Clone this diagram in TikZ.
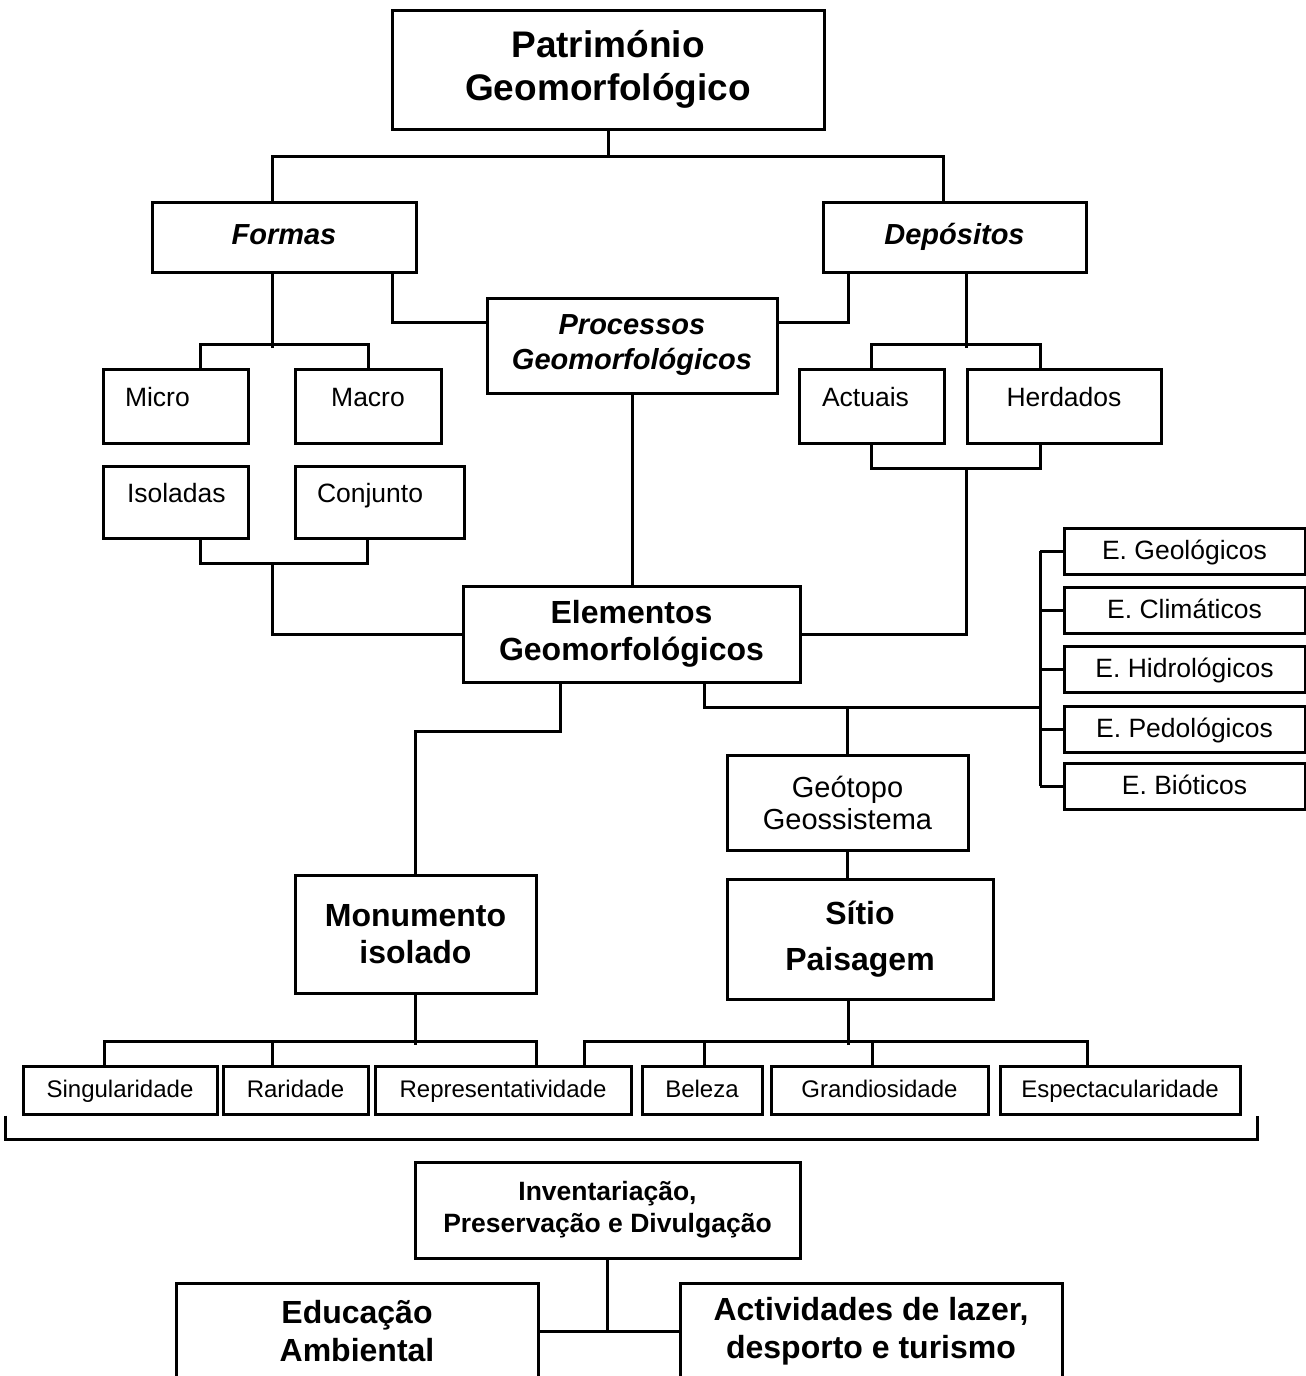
\documentclass[tikz,border=0pt]{standalone}
\usepackage{fontspec}
\setmainfont{Liberation Sans}
\usepackage{tikz}
\tikzstyle{box} = [rectangle, draw=black, text centered, align=center, inner sep=0pt]
\tikzstyle{titlebox} = [box, font=\bfseries\fontsize{37}{43}\selectfont]
\tikzstyle{italbox} = [box, font=\bfseries\itshape\fontsize{29}{35}\selectfont]
\tikzstyle{italone} = [italbox, text height=21pt, text depth=7pt]
\tikzstyle{bigbox} = [box, font=\bfseries\fontsize{32}{37}\selectfont]
\tikzstyle{smallbox} = [box, font=\fontsize{26.5}{32}\selectfont]
\tikzstyle{subbox} = [smallbox, text height=19pt, text depth=19pt]
\tikzstyle{leftbox} = [subbox, align=left, inner xsep=22pt]
\tikzstyle{elembox} = [smallbox, minimum width=241pt, minimum height=46pt, text height=19pt, text depth=3pt]
\tikzstyle{critbox} = [box, font=\fontsize{24}{28}\selectfont, minimum height=48pt, text height=17pt, text depth=2pt]

\begin{document}
\begin{tikzpicture}[x=1pt, y=-1pt, line width=3pt]
        \useasboundingbox (0,0) rectangle (1306,1376);

        % Topo
        \node (pat) [titlebox, minimum width=432pt, minimum height=119pt] at (608,69.5) {Património\\Geomorfológico};
        \node (formas) [italone, minimum width=264pt, minimum height=70pt] at (284,237) {Formas};
        \node (dep) [italone, minimum width=263pt, minimum height=70pt] at (954.5,237) {Depósitos};
        \node (proc) [italbox, minimum width=290pt, minimum height=95pt] at (632,345.5) {Processos\\Geomorfológicos};

        % Formas
        \node (micro) [leftbox, text width=101pt, minimum height=74pt] at (175.5,406) {Micro};
        \node (macro) [subbox, minimum width=146pt, minimum height=74pt] at (368,406) {Macro};
        \node (isol) [leftbox, text width=97pt, inner xsep=24pt, minimum height=72pt] at (175.5,502) {Isoladas};
        \node (conj) [leftbox, text width=125pt, minimum height=72pt] at (379.5,502) {Conjunto};

        % Depositos
        \node (actu) [leftbox, text width=99pt, inner xsep=23pt, minimum height=74pt] at (871.5,406) {Actuais};
        \node (herd) [subbox, minimum width=194pt, minimum height=74pt] at (1064,406) {Herdados};

        % Elementos
        \node (elem) [bigbox, minimum width=337pt, minimum height=96pt] at (631.5,634) {Elementos\\Geomorfológicos};
        \node (geol) [elembox] at (1184.5,551) {E. Geológicos};
        \node (clim) [elembox] at (1184.5,610) {E. Climáticos};
        \node (hidr) [elembox] at (1184.5,669.5) {E. Hidrológicos};
        \node (pedo) [elembox] at (1184.5,729) {E. Pedológicos};
        \node (biot) [elembox] at (1184.5,786) {E. Bióticos};
        \node (geo) [box, font=\fontsize{29}{32}\selectfont, minimum width=241pt, minimum height=95pt] at (847.5,802.5) {Geótopo\\Geossistema};

        % Monumento e Sitio
        \node (monu) [bigbox, minimum width=241pt, minimum height=118pt] at (415.5,934) {Monumento\\isolado};
        \node (sitio) [bigbox, minimum width=266pt, minimum height=120pt] at (860,939) {Sítio\\[9pt]Paisagem};

        % Criterios
        \node (sing) [critbox, minimum width=194pt] at (120,1090) {Singularidade};
        \node (rari) [critbox, minimum width=145pt] at (295.5,1090) {Raridade};
        \node (repr) [critbox, minimum width=256pt] at (503,1090) {Representatividade};
        \node (bele) [critbox, minimum width=120pt] at (702,1090) {Beleza};
        \node (gran) [critbox, minimum width=217pt] at (879.5,1090) {Grandiosidade};
        \node (espe) [critbox, minimum width=240pt] at (1120,1090) {Espectacularidade};

        % Base
        \node (inv) [box, font=\bfseries\fontsize{26.5}{32}\selectfont, minimum width=385pt, minimum height=96pt] at (607.5,1210) {Inventariação,\\Preservação e Divulgação};
        \node (edu) [bigbox, font=\bfseries\fontsize{32}{38}\selectfont, minimum width=362pt, minimum height=97pt] at (357,1331.5) {Educação\\Ambiental};
        \node (act) [bigbox, font=\bfseries\fontsize{32}{38}\selectfont, minimum width=382pt, minimum height=97pt] at (871,1331.5) {Actividades de lazer,\\desporto e turismo};

        \coordinate (isoj) at (272,562);
        \coordinate (depj) at (966,467);
        \coordinate (ejunc) at (1040,707);

        % Ligacoes
        \draw (pat.south) -- ++(0,26) -| ([xshift=-12pt]formas.north);
        \draw (pat.south) -- ++(0,26) -| ([xshift=-11.5pt]dep.north);
        \draw ([xshift=108pt]formas.south) |- ([yshift=23.5pt]proc.west);
        \draw ([xshift=-106.5pt]dep.south) |- ([yshift=23.5pt]proc.east);
        \draw ([xshift=-12pt]formas.south) -- ++(0,74);
        \draw ([xshift=24.5pt]micro.north) -- ++(0,-23) -| (macro.north);
        \draw ([xshift=24.5pt]isol.south) -- ++(0,24) -| ([xshift=-12.5pt]conj.south);
        \draw (isoj) |- (elem.west);
        \draw ([xshift=11.5pt]dep.south) -- ++(0,74);
        \draw (actu.north) -- ++(0,-23) -| ([xshift=-24pt]herd.north);
        \draw (actu.south) -- ++(0,24) -| ([xshift=-24pt]herd.south);
        \draw (depj) |- (elem.east);
        \draw (proc.south) -- (proc.south |- elem.north);
        \draw ([xshift=-71.5pt]elem.south) -- ++(0,48) -| (monu.north);
        \draw ([xshift=72.5pt]elem.south) |- (ejunc);
        \draw (geo.north) -- (geo.north |- ejunc);
        \draw (geol.west -| ejunc) -- (biot.west -| ejunc);
        \draw (geol.west) -- (geol.west -| ejunc);
        \draw (clim.west) -- (clim.west -| ejunc);
        \draw (hidr.west) -- (hidr.west -| ejunc);
        \draw (pedo.west) -- (pedo.west -| ejunc);
        \draw (biot.west) -- (biot.west -| ejunc);
        \draw (geo.south) -- (geo.south |- sitio.north);
        \draw (monu.south) -- ++(0,50);
        \draw ([xshift=-16pt]sing.north) -- ++(0,-23) -| ([xshift=33pt]repr.north);
        \draw ([xshift=-23.5pt]rari.north) -- ++(0,-23);
        \draw ([xshift=-12pt]sitio.south) -- ++(0,44);
        \draw ([xshift=81pt]repr.north) -- ++(0,-23) -| ([xshift=-33pt]espe.north);
        \draw ([xshift=2pt]bele.north) -- ++(0,-23);
        \draw ([xshift=-7.5pt]gran.north) -- ++(0,-23);
        \draw ([xshift=-16pt]sing.south west) -- ++(0,24) -| ([xshift=16pt]espe.south east);
        \draw (inv.south) -- (inv.south |- edu.east);
        \draw (edu.east) -- (act.west);
\end{tikzpicture}
\end{document}
